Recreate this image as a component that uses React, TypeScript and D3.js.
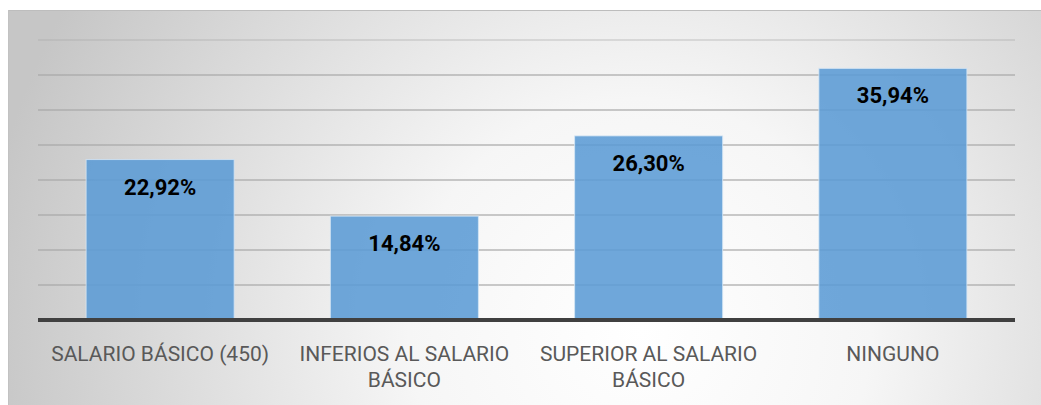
import React from "react";
import * as d3 from "d3";

const categories = [
  "SALARIO BÁSICO (450)",
  "INFERIOS AL SALARIO BÁSICO",
  "SUPERIOR AL SALARIO BÁSICO",
  "NINGUNO",
];
const values = [22.92, 14.84, 26.3, 35.94];
const gridTicks = [0, 5, 10, 15, 20, 25, 30, 35, 40];

const W = 1041;
const H = 405;
const plot = { left: 38, right: 1015, top: 40, bottom: 320 };

function wrap(s: string, max: number): string[] {
  const words = s.split(" ");
  const lines: string[] = [];
  let cur = "";
  for (const w of words) {
    const next = cur ? cur + " " + w : w;
    if (next.length > max && cur) {
      lines.push(cur);
      cur = w;
    } else cur = next;
  }
  if (cur) lines.push(cur);
  return lines;
}

export default function App() {
  const x = d3
    .scaleBand<string>()
    .domain(categories)
    .range([plot.left, plot.right])
    .paddingInner(0.394)
    .paddingOuter(0.197);
  const y = d3.scaleLinear().domain([0, 40]).range([plot.bottom, plot.top]);
  const fmt = (v: number) => v.toFixed(2).replace(".", ",") + "%";

  return (
    <svg
      width={W}
      height={H}
      style={{ position: "absolute", left: 0, top: 0, display: "block" }}
    >
      <defs>
        <radialGradient
          id="bg"
          gradientUnits="userSpaceOnUse"
          cx={640}
          cy={330}
          r={660}
        >
          <stop offset="0" stopColor="#ffffff" />
          <stop offset="0.35" stopColor="#f6f6f6" />
          <stop offset="1" stopColor="#c6c6c6" />
        </radialGradient>
      </defs>
      <rect x={0} y={0} width={W} height={H} fill="#ffffff" />
      <rect x={8} y={10} width={W - 8} height={H - 10} fill="url(#bg)" />
      <line x1={8} x2={W} y1={10.5} y2={10.5} stroke="#bdbdbd" strokeWidth={1} />
      <line x1={8.5} x2={8.5} y1={10} y2={H} stroke="#c2c2c2" strokeWidth={1} />
      {gridTicks
        .filter((t) => t > 0)
        .map((t) => (
          <line
            key={t}
            x1={plot.left}
            x2={plot.right}
            y1={y(t)}
            y2={y(t)}
            stroke="#a8a8a8"
            strokeOpacity={t === 40 ? 0.45 : 0.8}
            strokeWidth={1.5}
          />
        ))}
      {categories.map((c, i) => (
        <g key={c}>
          <rect
            x={x(c)!}
            y={y(values[i])}
            width={x.bandwidth()}
            height={plot.bottom - y(values[i])}
            fill="#5b9bd5"
            fillOpacity={0.88}
            stroke="#d6e6f5"
            strokeOpacity={0.8}
            strokeWidth={1}
          />
          <text
            x={x(c)! + x.bandwidth() / 2}
            y={y(values[i]) + 35}
            textAnchor="middle"
            fontFamily="Roboto, 'Noto Sans', sans-serif"
            fontWeight="bold"
            fontSize={22}
            fill="#000000"
          >
            {fmt(values[i])}
          </text>
          {wrap(c, 20).map((ln, j) => (
            <text
              key={j}
              x={x(c)! + x.bandwidth() / 2}
              y={361 + j * 26}
              textAnchor="middle"
              fontFamily="Roboto, 'Noto Sans', sans-serif"
              fontSize={21}
              fill="#595959"
            >
              {ln}
            </text>
          ))}
        </g>
      ))}
      <line
        x1={plot.left}
        x2={plot.right}
        y1={plot.bottom}
        y2={plot.bottom}
        stroke="#404040"
        strokeWidth={4}
      />
    </svg>
  );
}
